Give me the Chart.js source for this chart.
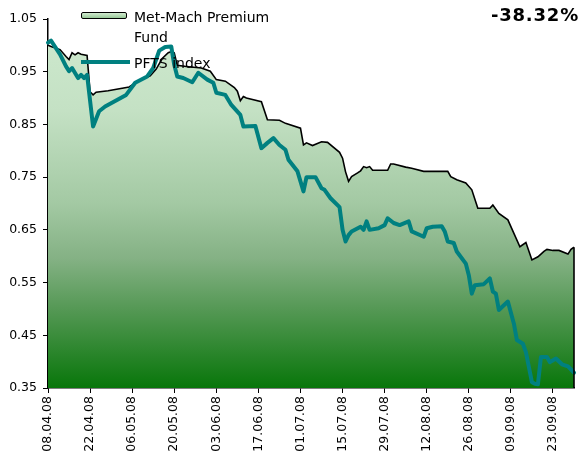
<!DOCTYPE html>
<html>
<head>
<meta charset="utf-8">
<script src="https://cdn.jsdelivr.net/npm/chart.js@4.4.0/dist/chart.umd.min.js"></script>
<style>
html,body{margin:0;padding:0;background:#fff;}
#wrap{position:relative;width:581px;height:452px;overflow:hidden;font-family:"DejaVu Sans",sans-serif;}
#wrap canvas{position:absolute;left:0;top:0;}
.leg{position:absolute;color:#000;font-size:14px;line-height:20px;white-space:nowrap;}
#sw{position:absolute;left:81px;top:12px;width:44px;height:5px;border:1.5px solid #000;border-radius:2px;background:linear-gradient(#d2ebd0,#98c898);}
#tl{position:absolute;left:81px;top:60px;width:49px;height:4px;background:#008080;}
#pct{position:absolute;right:2px;top:6px;font-size:18px;line-height:18px;font-weight:bold;letter-spacing:0.8px;color:#000;}
</style>
</head>
<body>
<div id="wrap">
<canvas id="c" width="581" height="452"></canvas>
<div id="sw"></div>
<div class="leg" id="l1" style="left:134px;top:7px;">Met-Mach Premium<br>Fund</div>
<div id="tl"></div>
<div class="leg" id="l2" style="left:134px;top:53px;">PFTS index</div>
<div id="pct"></div>
</div>
<script>
// ---- data ----
const startDate = "08.04.08";
const xTickLabels = ["08.04.08","22.04.08","06.05.08","20.05.08","03.06.08","17.06.08","01.07.08","15.07.08","29.07.08","12.08.08","26.08.08","09.09.08","23.09.08"];
const endDate = "30.09.08";
const yTicks = [0.35,0.45,0.55,0.65,0.75,0.85,0.95,1.05];

const fundLabel = "Met-Mach Premium Fund";
const fundDates = ["08.04.08","09.04.08","12.04.08","14.04.08","15.04.08","16.04.08","17.04.08","18.04.08","19.04.08","21.04.08",
"22.04.08","23.04.08","24.04.08","28.04.08","05.05.08","08.05.08","12.05.08","14.05.08","16.05.08","18.05.08",
"19.05.08","20.05.08","21.05.08","24.05.08","29.05.08","01.06.08","03.06.08","06.06.08","09.06.08","10.06.08",
"11.06.08","12.06.08","13.06.08","18.06.08","20.06.08","24.06.08","26.06.08","01.07.08","02.07.08","03.07.08",
"05.07.08","08.07.08","10.07.08","14.07.08","15.07.08","16.07.08","17.07.08","18.07.08","20.07.08","21.07.08",
"22.07.08","23.07.08","24.07.08","25.07.08","30.07.08","31.07.08","01.08.08","05.08.08","07.08.08","11.08.08",
"19.08.08","20.08.08","22.08.08","25.08.08","27.08.08","29.08.08","02.09.08","03.09.08","05.09.08","08.09.08",
"12.09.08","14.09.08","16.09.08","18.09.08","20.09.08","21.09.08","23.09.08","25.09.08","28.09.08","29.09.08",
"30.09.08"];
const fundValues = [1.000,0.998,0.992,0.979,0.973,0.986,0.982,0.986,0.983,0.981,
0.912,0.906,0.911,0.914,0.921,0.932,0.942,0.955,0.975,0.986,
0.988,0.986,0.962,0.960,0.957,0.951,0.935,0.932,0.920,0.913,
0.895,0.903,0.900,0.893,0.859,0.858,0.852,0.843,0.811,0.815,
0.810,0.817,0.816,0.797,0.786,0.760,0.742,0.751,0.758,0.762,
0.770,0.768,0.770,0.763,0.763,0.775,0.775,0.769,0.767,0.761,
0.761,0.751,0.745,0.739,0.726,0.691,0.691,0.697,0.681,0.669,
0.618,0.626,0.593,0.599,0.609,0.613,0.611,0.611,0.604,0.613,
0.617];

const pftsLabel = "PFTS index";
const pftsDates = ["08.04.08","09.04.08","12.04.08","14.04.08","15.04.08","16.04.08","18.04.08","19.04.08","20.04.08","21.04.08",
"23.04.08","25.04.08","27.04.08","04.05.08","07.05.08","11.05.08","13.05.08","15.05.08","17.05.08","19.05.08",
"20.05.08","21.05.08","23.05.08","26.05.08","28.05.08","31.05.08","02.06.08","03.06.08","06.06.08","08.06.08",
"11.06.08","12.06.08","16.06.08","18.06.08","20.06.08","22.06.08","24.06.08","26.06.08","27.06.08","30.06.08",
"02.07.08","03.07.08","06.07.08","08.07.08","09.07.08","11.07.08","14.07.08","15.07.08","16.07.08","17.07.08",
"18.07.08","21.07.08","22.07.08","23.07.08","24.07.08","27.07.08","29.07.08","30.07.08","01.08.08","03.08.08",
"06.08.08","07.08.08","11.08.08","12.08.08","14.08.08","17.08.08","18.08.08","19.08.08","21.08.08","22.08.08",
"25.08.08","26.08.08","27.08.08","28.08.08","31.08.08","02.09.08","03.09.08","04.09.08","05.09.08","08.09.08",
"10.09.08","11.09.08","13.09.08","14.09.08","16.09.08","17.09.08","18.09.08","19.09.08","21.09.08","22.09.08",
"24.09.08","26.09.08","28.09.08","30.09.08"];
const pftsValues = [1.005,1.009,0.983,0.960,0.951,0.957,0.938,0.944,0.938,0.944,
0.846,0.875,0.884,0.906,0.929,0.941,0.957,0.990,0.997,0.998,
0.963,0.941,0.938,0.930,0.948,0.935,0.929,0.910,0.906,0.887,
0.868,0.846,0.847,0.805,0.815,0.824,0.811,0.802,0.783,0.761,
0.723,0.750,0.750,0.729,0.726,0.710,0.693,0.650,0.628,0.640,
0.647,0.656,0.650,0.666,0.650,0.653,0.659,0.672,0.663,0.659,
0.666,0.647,0.637,0.653,0.656,0.657,0.647,0.628,0.625,0.609,
0.586,0.564,0.529,0.545,0.547,0.558,0.533,0.529,0.498,0.514,
0.472,0.441,0.434,0.418,0.361,0.358,0.357,0.409,0.409,0.399,
0.406,0.395,0.391,0.379];

const returnText = "-38.32%";

// ---- helpers ----
function toUTC(s){const p=s.split(".");return Date.UTC(2000+parseInt(p[2],10),parseInt(p[1],10)-1,parseInt(p[0],10));}
const t0 = toUTC(startDate);
function dayOf(s){return Math.round((toUTC(s)-t0)/86400000);}
const tickDays = xTickLabels.map(dayOf);
const lastDay = dayOf(endDate);
const fundPoints = fundDates.map((d,i)=>({x:dayOf(d),y:fundValues[i]}));
const pftsPoints = pftsDates.map((d,i)=>({x:dayOf(d),y:pftsValues[i]}));

document.getElementById('pct').textContent = returnText;
document.getElementById('l1').innerHTML = "Met-Mach Premium<br>Fund";
document.getElementById('l2').textContent = pftsLabel;

function areaGradient(context){
  const chart = context.chart;
  const a = chart.chartArea;
  if(!a) return '#a0c8a0';
  const g = chart.ctx.createLinearGradient(0,a.top,0,a.bottom);
  g.addColorStop(0,'#cfeacf');
  g.addColorStop(0.25,'#c4e1c4');
  g.addColorStop(0.5,'#a3c9a3');
  g.addColorStop(0.65,'#84b184');
  g.addColorStop(0.8,'#509650');
  g.addColorStop(1,'#08760a');
  return g;
}

const edgePlugin = {
  id:'edge',
  afterDatasetsDraw(chart){
    const meta = chart.getDatasetMeta(1);
    const pts = meta.data;
    if(!pts.length) return;
    const last = pts[pts.length-1];
    const ctx = chart.ctx;
    ctx.save();
    ctx.strokeStyle = '#000';
    ctx.lineWidth = 1.6;
    ctx.beginPath();
    ctx.moveTo(last.x, last.y);
    ctx.lineTo(last.x, chart.chartArea.bottom);
    ctx.stroke();
    ctx.restore();
  }
};

const tickFont = {family:'DejaVu Sans', size:12.5};

new Chart(document.getElementById('c').getContext('2d'), {
  type:'line',
  data:{datasets:[
    {label:pftsLabel, data:pftsPoints, borderColor:'#008080', borderWidth:4, pointRadius:0, fill:false, order:0, tension:0, clip:6, borderJoinStyle:'round', borderCapStyle:'round'},
    {label:fundLabel, data:fundPoints, borderColor:'#000', borderWidth:1.6, pointRadius:0, fill:'start', backgroundColor:areaGradient, order:1, tension:0, clip:4}
  ]},
  options:{
    responsive:false, animation:false, devicePixelRatio:1,
    plugins:{legend:{display:false}, tooltip:{enabled:false}},
    layout:{padding:{top:19, right:7, left:0, bottom:0}},
    scales:{
      x:{type:'linear', min:0, max:lastDay,
        afterBuildTicks:s=>{s.ticks = tickDays.map(v=>({value:v}));},
        afterFit:s=>{s.height = 64;},
        ticks:{autoSkip:false, maxRotation:90, minRotation:90, color:'#000', font:tickFont, padding:3,
          callback:(v)=>{const i=tickDays.indexOf(v);return i>=0?xTickLabels[i]:'';}},
        grid:{display:true, drawOnChartArea:false, drawTicks:true, tickLength:5, color:'#000', lineWidth:1},
        border:{display:true, color:'#000', width:1.5}
      },
      y:{type:'linear', min:yTicks[0], max:yTicks[yTicks.length-1],
        afterBuildTicks:s=>{s.ticks = yTicks.map(v=>({value:v}));},
        afterFit:s=>{s.width = 48;},
        ticks:{color:'#000', font:tickFont, padding:6, callback:(v)=>Number(v).toFixed(2)},
        grid:{display:true, drawOnChartArea:false, drawTicks:true, tickLength:5, color:'#000', lineWidth:1},
        border:{display:true, color:'#000', width:1.5}
      }
    }
  },
  plugins:[edgePlugin]
});
</script>
</body>
</html>
